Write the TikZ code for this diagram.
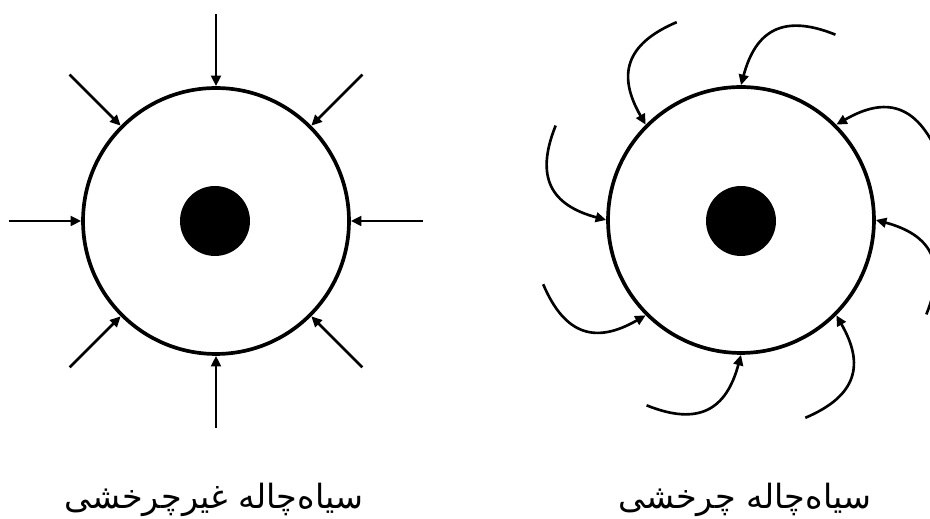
\documentclass[tikz,border=0pt]{standalone}
\usepackage{fontspec}
\newfontfamily\arabicfont[Script=Arabic]{DejaVu Sans}
\TeXXeTstate=1
\usetikzlibrary{arrows.meta,calc}

\begin{document}
\begin{tikzpicture}[x=0.02cm, y=0.02cm,
  horizon/.style={draw, circle, line width=2.1pt, minimum size=5.32cm, inner sep=0pt},
  hole/.style={fill, circle, minimum size=1.4cm, inner sep=0pt},
  arr/.style={-{Triangle[length=6pt, width=5.5pt]}, line width=1.5pt},
  lbl/.style={font=\arabicfont\fontsize{19}{23}\selectfont}
]
  \clip (0,0) rectangle (930,519);
  % non-rotating black hole
  \node[horizon] (hl) at (216,298) {};
  \node[hole] (bl) at (215,298) {};
  \foreach \a in {0,45,...,315}{
    \coordinate (sl\a) at ($(hl)+(\a:207)$);
    \draw[arr] (sl\a) -- (hl.\a);
  }
  \node[lbl] (tl) at (214,19) {\beginR سیاه‌چاله غیرچرخشی\endR};

  % rotating black hole
  \node[horizon] (hr) at (741,299) {};
  \node[hole] (br) at (741,298) {};
  \foreach \a in {0,45,...,315}{
    \coordinate (sr\a) at ($(hr)+(\a-27:208)$);
    \draw[arr] (sr\a) to[out=\a+68, in=\a-15, looseness=1.35] (hr.\a);
  }
  \node[lbl] (tr) at (745,19) {\beginR سیاه‌چاله چرخشی\endR};
\end{tikzpicture}
\end{document}
